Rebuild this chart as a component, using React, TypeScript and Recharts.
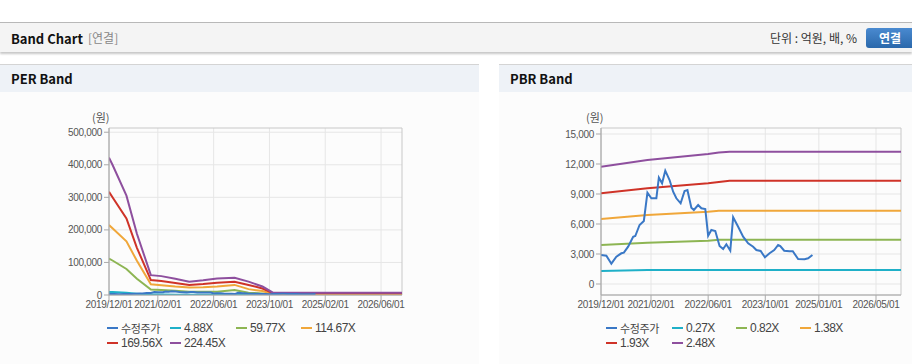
import React from 'react'
import { LineChart, Line, XAxis, YAxis, CartesianGrid, ReferenceArea } from 'recharts'

// month index: 0 = 2019/12
const priceMonths = [0, 1.5, 2.9, 4.3, 5.7, 6.4, 7.6, 9.0, 9.6, 10.8, 12.0, 13.0, 14.1, 15.5, 16.2, 17.1, 18.0, 19.2, 20.2, 21.1, 22.3, 23.4, 24.2, 25.3, 26.0, 27.2, 28.1, 29.2, 30.0, 30.9, 32.0, 33.2, 34.2, 35.1, 36.2, 37.0, 38.4, 39.8, 41.2, 42.6, 43.5, 44.7, 45.9, 47.2, 48.5, 49.6, 50.2, 51.3, 52.8, 53.7, 55.2, 57.0, 58.0, 59.2]
const priceValues = [2900, 2830, 2030, 2730, 3070, 3130, 3730, 4730, 4800, 5900, 6300, 9130, 8570, 8570, 10630, 10070, 11330, 10400, 9230, 8570, 8070, 9300, 9400, 7630, 7400, 7900, 7570, 7500, 4830, 5400, 5300, 3800, 3500, 3970, 3330, 6670, 5730, 4730, 4070, 3730, 3400, 3300, 2670, 3070, 3400, 3900, 3800, 3330, 3270, 3270, 2500, 2470, 2570, 2900]

const perMonths = [0, 1, 5, 8, 12, 15, 19, 23, 27, 31, 36, 40, 44, 47, 84]
const per488 = [9200, 8900, 6700, 4200, 1300, 1200, 1000, 900, 900, 1000, 1200, 800, 500, 100, 100]
const per5977 = [112000, 106000, 80000, 50000, 17000, 15000, 13000, 10000, 10000, 10000, 15000, 7000, 5000, 500, 500]
const per11467 = [215000, 205000, 165000, 105000, 33000, 30000, 26000, 23000, 24000, 26000, 31000, 18000, 12000, 2000, 2000]
const per16956 = [317000, 300000, 235000, 145000, 46000, 43000, 37000, 31000, 34000, 38000, 41000, 31000, 20000, 5000, 5000]
const per22445 = [422000, 400000, 305000, 188000, 61000, 58000, 50000, 41000, 45000, 51000, 53000, 41000, 26000, 7000, 7000]

const pbrMonths = [0, 13, 30, 33, 36, 84]
const pbr027 = [1300, 1400, 1400, 1400, 1400, 1400]
const pbr082 = [3900, 4130, 4330, 4430, 4430, 4430]
const pbr138 = [6500, 6900, 7230, 7330, 7330, 7330]
const pbr193 = [9070, 9570, 10070, 10200, 10330, 10330]
const pbr248 = [11730, 12400, 13000, 13150, 13230, 13230]

const perTicks = [0, 14, 30, 46, 62, 78]
const perTickLabels = ['2019/12/01', '2021/02/01', '2022/06/01', '2023/10/01', '2025/02/01', '2026/06/01']
const pbrTicks = [0, 14, 30, 46, 61, 77]
const pbrTickLabels = ['2019/12/01', '2021/02/01', '2022/06/01', '2023/10/01', '2025/01/01', '2026/05/01']

const perYTicks = [0, 100000, 200000, 300000, 400000, 500000]
const pbrYTicks = [0, 3000, 6000, 9000, 12000, 15000]

const perNames = ['수정주가', '4.88X', '59.77X', '114.67X', '169.56X', '224.45X']
const pbrNames = ['수정주가', '0.27X', '0.82X', '1.38X', '1.93X', '2.48X']
const colors = ['#3a78c6', '#1fb0c8', '#8db553', '#f0a73a', '#cf3328', '#8e4f9e']

const priceData = priceMonths.map((m, i) => ({ m, v: priceValues[i] }))
const perData = perMonths.map((m, i) => ({ m, b1: per488[i], b2: per5977[i], b3: per11467[i], b4: per16956[i], b5: per22445[i] }))
const pbrData = pbrMonths.map((m, i) => ({ m, b1: pbr027[i], b2: pbr082[i], b3: pbr138[i], b4: pbr193[i], b5: pbr248[i] }))

const tickFont = { fontSize: 10, fill: '#555', fontFamily: 'Liberation Sans, Arial, sans-serif', letterSpacing: -0.3 }

const Legend = ({ names, cols }: { names: string[]; cols: number[] }) => (
  <>
    {names.map((n, i) => (
      <div
        key={n}
        style={{
          position: 'absolute',
          left: cols[i % 4],
          top: i < 4 ? 322 : 337,
          height: 12,
          lineHeight: '12px',
          display: 'flex',
          alignItems: 'center',
          color: '#444',
          whiteSpace: 'nowrap',
        }}
      >
        <span style={{ display: 'inline-block', width: 11, height: 2.5, background: colors[i], marginRight: 3 }} />
        {i === 0 ? (
          <span style={{ fontSize: 11, lineHeight: '12px', letterSpacing: -0.4, fontFamily: '"Noto Sans CJK KR", sans-serif' }}>{n}</span>
        ) : (
          <span style={{ fontSize: 12, lineHeight: '12px', letterSpacing: -0.5, fontFamily: 'Liberation Sans, Arial, sans-serif' }}>{n}</span>
        )}
      </div>
    ))}
  </>
)

const BandChart = ({
  data, yTicks, yDomain, xTicks, xLabels, yWidth, rightMargin, width,
}: {
  data: any[]; yTicks: number[]; yDomain: [number, number]; xTicks: number[]; xLabels: string[]; yWidth: number; rightMargin: number; width: number
}) => (
  <LineChart width={width} height={225} margin={{ top: 35, right: rightMargin, bottom: 0, left: 0 }}>
    <CartesianGrid stroke="#e6e6e6" verticalValues={xTicks} horizontalValues={yTicks} />
    <ReferenceArea x1={0} x2={84} y1={yDomain[0]} y2={yDomain[1]} fill="none" stroke="#c8c8c8" />
    <XAxis
      dataKey="m"
      type="number"
      domain={[0, 84]}
      ticks={xTicks}
      interval={0}
      allowDataOverflow
      tickFormatter={(v: number) => xLabels[xTicks.indexOf(v)] ?? ''}
      tick={tickFont}
      tickSize={5}
      tickMargin={1}
      height={23}
      stroke="#aaa"
    />
    <YAxis
      type="number"
      domain={yDomain}
      ticks={yTicks}
      interval={0}
      allowDataOverflow
      tickFormatter={(v: number) => v.toLocaleString('en-US')}
      tick={tickFont}
      tickSize={5}
      width={yWidth}
      stroke="#aaa"
    />
    {['b1', 'b2', 'b3', 'b4', 'b5'].map((k, i) => (
      <Line key={k} data={data} dataKey={k} stroke={colors[i + 1]} strokeWidth={2} dot={false} isAnimationActive={false} />
    ))}
    <Line data={priceData} dataKey="v" stroke={colors[0]} strokeWidth={2} dot={false} isAnimationActive={false} />
  </LineChart>
)

const Panel = ({ left, width, title }: { left: number; width: number; title: string }) => (
  <>
    <div style={{ position: 'absolute', left, top: 64, width, height: 1.5, background: '#d4d4d4' }} />
    <div style={{ position: 'absolute', left, top: 65, width, height: 27, background: '#eef2f7', lineHeight: '27px', fontWeight: 700, fontSize: 13, color: '#111', paddingLeft: 11, boxSizing: 'border-box' }}>{title}</div>
    <div style={{ position: 'absolute', left, top: 92, width, height: 272, background: '#fcfcfc' }} />
  </>
)

export default function App() {
  return (
    <div style={{ position: 'absolute', left: 0, top: 0, width: 912, height: 364, overflow: 'hidden', background: '#fff', fontFamily: '"Noto Sans CJK KR", "Noto Sans", sans-serif' }}>
      <div style={{ position: 'absolute', left: 0, top: 22, width: 912, height: 1, background: '#b8b8b8' }} />
      <div style={{ position: 'absolute', left: 0, top: 23, width: 912, height: 29, background: '#f4f4f4', boxShadow: '0 2px 2px rgba(0,0,0,0.22)' }}>
        <span style={{ position: 'absolute', left: 11, top: 6, fontSize: 13, fontWeight: 700, color: '#111' }}>Band Chart</span>
        <span style={{ position: 'absolute', left: 88, top: 6, fontSize: 12, color: '#888' }}>[연결]</span>
        <span style={{ position: 'absolute', left: 770, top: 6, fontSize: 12, color: '#333' }}>단위 : 억원, 배, %</span>
        <div style={{ position: 'absolute', left: 866, top: 5, width: 52, height: 20, borderRadius: 3, background: 'linear-gradient(#4a8ad0, #2a68ab)', color: '#fff', fontSize: 12, fontWeight: 700, lineHeight: '20px', paddingLeft: 13, boxSizing: 'border-box' }}>연결</div>
      </div>

      <Panel left={0} width={479} title="PER Band" />
      <Panel left={499} width={413} title="PBR Band" />

      <div style={{ position: 'absolute', left: 92, top: 109, fontSize: 11, color: '#555' }}>(원)</div>
      <div style={{ position: 'absolute', left: 586, top: 109, fontSize: 11, color: '#555' }}>(원)</div>

      <div style={{ position: 'absolute', left: 0, top: 93 }}>
        <BandChart data={perData} yTicks={perYTicks} yDomain={[0, 513000]} xTicks={perTicks} xLabels={perTickLabels} yWidth={109} rightMargin={77} width={479} />
      </div>
      <div style={{ position: 'absolute', left: 499, top: 93 }}>
        <BandChart data={pbrData} yTicks={pbrYTicks} yDomain={[-1100, 15600]} xTicks={pbrTicks} xLabels={pbrTickLabels} yWidth={102} rightMargin={11} width={413} />
      </div>

      <Legend names={perNames} cols={[107, 170, 236, 301]} />
      <Legend names={pbrNames} cols={[606, 672, 736, 800]} />
    </div>
  )
}
